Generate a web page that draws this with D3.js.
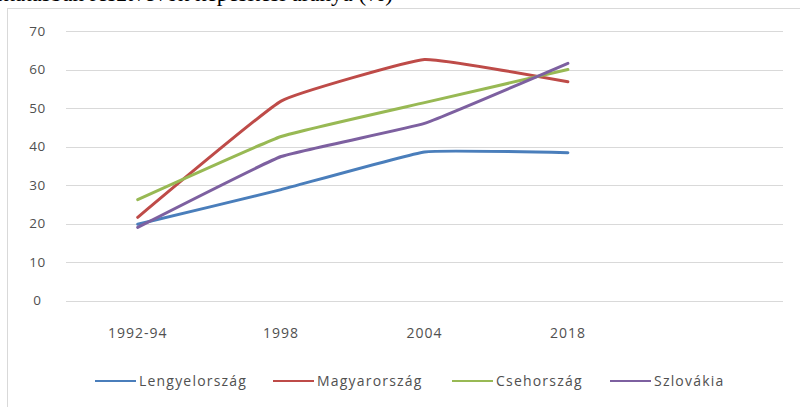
<!DOCTYPE html>
<html>
<head>
<meta charset="utf-8">
<script src="https://cdn.jsdelivr.net/npm/d3@7"></script>
<style>
  body { margin: 0; background: #fff; }
  svg text { font-family: "Open Sans", sans-serif; fill: #505050; }
</style>
</head>
<body>
<div id="container"></div>
<script>
// Chart size
const width = 800;
const height = 407;

// Data
const categories = ["1992-94", "1998", "2004", "2018", ""];
const seriesNames = ["Lengyelország", "Magyarország", "Csehország", "Szlovákia"];
const lengyel = [19.8, 28.8, 38.6, 38.4];
const magyar = [21.6, 51.8, 62.6, 56.8];
const cseh = [26.2, 42.6, 51.4, 60.0];
const szlovak = [19.0, 37.4, 46.0, 61.6];
const yTicks = [0, 10, 20, 30, 40, 50, 60, 70];
const colors = ["#4a7ebb", "#be4b48", "#98b954", "#7d60a0"];

const series = [lengyel, magyar, cseh, szlovak];

const svg = d3.select('#container')
    .append('svg')
    .attr('width', width)
    .attr('height', height);

// Title, cut off at the top of the picture
svg.append('text')
    .attr('x', 393)
    .attr('y', 1)
    .attr('text-anchor', 'end')
    .style('font-family', '"Liberation Serif", serif')
    .style('font-size', '23px')
    .style('fill', '#000')
    .text('A felsőoktatásban résztvevők képesítési aránya (%)');

// Chart frame
svg.append('rect')
    .attr('x', 7.5)
    .attr('y', 8.5)
    .attr('width', 820)
    .attr('height', 420)
    .style('fill', 'none')
    .style('stroke', '#d9d9d9');

// Scales
const x = d3.scaleBand()
    .domain(categories)
    .range([66, 783])
    .padding(0);

const y = d3.scaleLinear()
    .domain([0, 70])
    .range([300.5, 31]);

// Gridlines
svg.selectAll('.grid')
    .data(yTicks)
    .enter().append('line')
    .attr('x1', 66)
    .attr('x2', 783)
    .attr('y1', d => Math.round(y(d)) + 0.5)
    .attr('y2', d => Math.round(y(d)) + 0.5)
    .style('stroke', '#d9d9d9')
    .style('stroke-width', 1);

// Y labels
svg.selectAll('.ylab')
    .data(yTicks)
    .enter().append('text')
    .attr('x', 37.5)
    .attr('y', d => y(d))
    .attr('dy', '0.35em')
    .attr('text-anchor', 'middle')
    .style('font-size', '13.5px')
    .style('letter-spacing', '0.6px')
    .text(d => d);

// X labels
svg.selectAll('.xlab')
    .data(categories.filter(c => c !== ""))
    .enter().append('text')
    .attr('x', d => x(d) + x.bandwidth() / 2)
    .attr('y', 333)
    .attr('dy', '0.35em')
    .attr('text-anchor', 'middle')
    .style('font-size', '14px')
    .style('letter-spacing', '1px')
    .text(d => d);

// Lines
const line = d3.line()
    .x((d, i) => x(categories[i]) + x.bandwidth() / 2)
    .y(d => y(d))
    .curve(d3.curveCardinal.tension(0.7));

svg.selectAll('.series')
    .data(series)
    .enter().append('path')
    .attr('class', 'series')
    .attr('d', d => line(d))
    .style('fill', 'none')
    .style('stroke', (d, i) => colors[i])
    .style('stroke-width', 3)
    .style('stroke-linecap', 'round')
    .style('stroke-linejoin', 'round');

// Legend
const legendX = [95, 273, 452, 610];
const legend = svg.selectAll('.legend')
    .data(seriesNames)
    .enter().append('g')
    .attr('transform', (d, i) => `translate(${legendX[i]},381)`);

legend.append('line')
    .attr('x1', 0)
    .attr('x2', 41)
    .style('stroke', (d, i) => colors[i])
    .style('stroke-width', 2);

legend.append('text')
    .attr('x', 44)
    .attr('dy', '0.35em')
    .style('font-size', '14px')
    .style('letter-spacing', '1.2px')
    .text(d => d);
</script>
</body>
</html>
